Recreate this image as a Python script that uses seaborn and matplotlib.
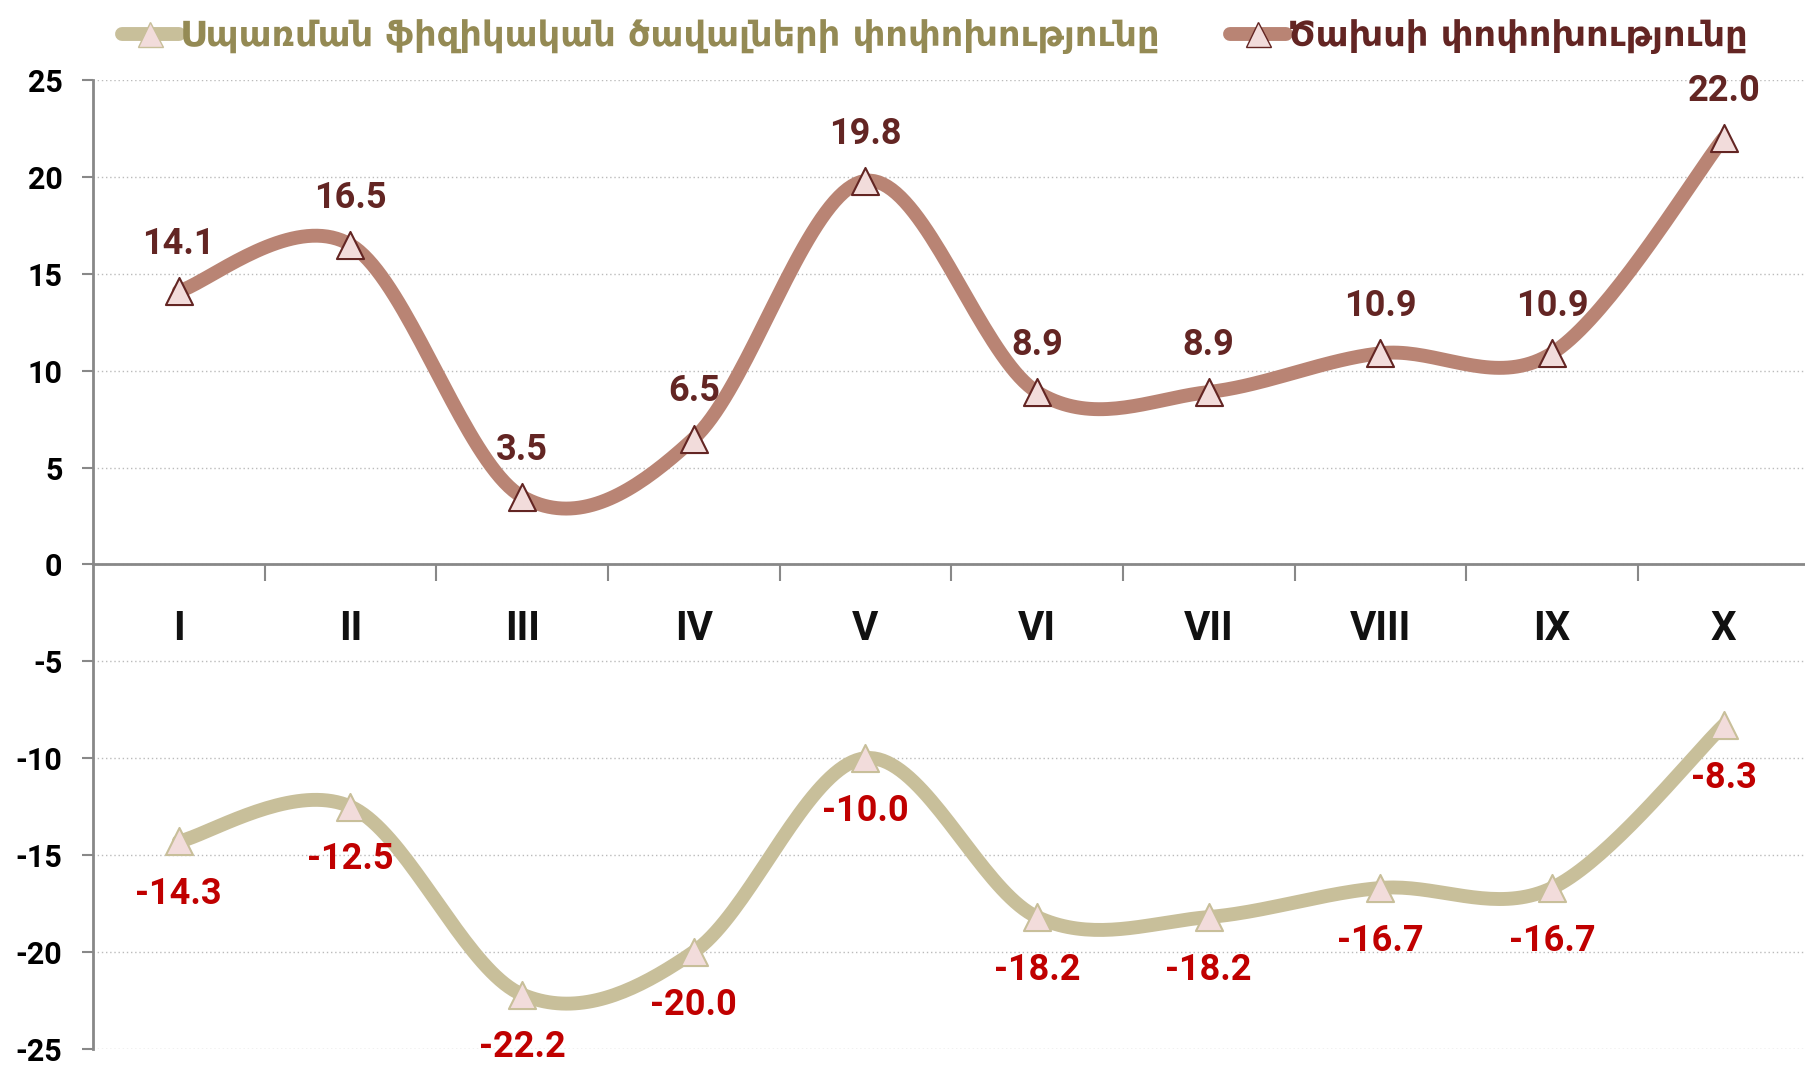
import numpy as np
import pandas as pd
import matplotlib
matplotlib.use("Agg")
import matplotlib.pyplot as plt
import seaborn as sns
from matplotlib.lines import Line2D
from matplotlib.ticker import MultipleLocator, FixedLocator

months = ["I", "II", "III", "IV", "V", "VI", "VII", "VIII", "IX", "X"]
cost_change = [14.1, 16.5, 3.5, 6.5, 19.8, 8.9, 8.9, 10.9, 10.9, 22.0]
volume_change = [-14.3, -12.5, -22.2, -20.0, -10.0, -18.2, -18.2, -16.7, -16.7, -8.3]
legend_volume = "Սպառման ֆիզիկական ծավալների փոփոխությունը"
legend_cost = "Ծախսի փոփոխությունը"

sns.set_theme(style="white")
plt.rcParams['font.family'] = ['Roboto', 'DejaVu Sans']


def smooth(xs, ys, n=40):
    xs = np.asarray(xs, float); ys = np.asarray(ys, float)
    P = np.column_stack([xs, ys])
    P = np.vstack([P[0], P, P[-1]])
    out = []
    for i in range(1, len(P) - 2):
        p0, p1, p2, p3 = P[i - 1], P[i], P[i + 1], P[i + 2]
        c1 = p1 + (p2 - p0) / 6.0
        c2 = p2 - (p3 - p1) / 6.0
        t = np.linspace(0, 1, n)[:, None]
        b = (1 - t) ** 3 * p1 + 3 * (1 - t) ** 2 * t * c1 + 3 * (1 - t) * t ** 2 * c2 + t ** 3 * p2
        out.append(b if i == 1 else b[1:])
    c = np.vstack(out)
    return c[:, 0], c[:, 1]


fig = plt.figure(figsize=(18.05, 10.68), dpi=100)
ax = fig.add_axes([0.0515, 0.018, 0.951, 0.907])

x = np.arange(len(months))
df = pd.DataFrame({"m": x, "cost": cost_change, "vol": volume_change})

brown = "#B98474"
tan = "#C8BF9A"
mfill = "#F2DCDB"
dark = "#632523"
red = "#C00000"

for col, lc, medge in [("vol", tan, tan), ("cost", brown, dark)]:
    sx, sy = smooth(df["m"], df[col])
    sns.lineplot(x=sx, y=sy, ax=ax, color=lc, linewidth=10, sort=False,
                 solid_capstyle="round", zorder=3)
    sns.scatterplot(x=df["m"], y=df[col], ax=ax, marker="^", s=380, color=mfill,
                    edgecolor=medge, linewidth=1.5, zorder=4)

for xi, v in zip(x, cost_change):
    ax.text(xi, v + 1.5, f"{v:.1f}", ha="center", va="bottom", fontsize=26,
            fontweight="bold", color=dark, zorder=5)
for xi, v in zip(x, volume_change):
    ax.text(xi, v - 1.8, f"{v:.1f}", ha="center", va="top", fontsize=26,
            fontweight="bold", color=red, zorder=5)

ax.set_xlim(-0.5, 9.5)
ax.set_ylim(-25, 25)
ax.yaxis.set_major_locator(MultipleLocator(5))
ax.set_yticklabels([f"{int(t)}" for t in ax.get_yticks()])
ax.tick_params(axis="y", labelsize=22, length=8, color="#888888", width=1.5, pad=14,
               left=True, labelcolor="black")
for lbl in ax.get_yticklabels():
    lbl.set_fontweight("bold")
ax.grid(axis="y", color="#BBBBBB", linestyle=(0, (1, 2)), linewidth=1)
ax.set_axisbelow(True)

ax.spines["bottom"].set_position(("data", 0))
for s in ["top", "right"]:
    ax.spines[s].set_visible(False)
for s in ["left", "bottom"]:
    ax.spines[s].set_color("#888888")
    ax.spines[s].set_linewidth(2)
ax.spines["left"].set_zorder(2)

ax.set_xticks(x)
ax.set_xticklabels(months)
ax.xaxis.set_minor_locator(FixedLocator(np.arange(0.5, 9.5, 1)))
ax.tick_params(axis="x", which="major", length=0, pad=33, labelsize=29, labelcolor="#111111")
ax.tick_params(axis="x", which="minor", length=12, color="#888888", width=1.5, bottom=True)
for lbl in ax.get_xticklabels():
    lbl.set_fontweight("bold")
ax.set_xlabel("")
ax.set_ylabel("")

handles = [
    Line2D([0], [0], color=tan, lw=10, marker="^", markersize=18, markerfacecolor=mfill,
           markeredgecolor=tan, solid_capstyle="round"),
    Line2D([0], [0], color=brown, lw=10, marker="^", markersize=18, markerfacecolor=mfill,
           markeredgecolor=dark, solid_capstyle="round"),
]
leg = fig.legend(handles, [legend_volume, legend_cost], loc="upper center",
                 bbox_to_anchor=(0.518, 1.012), ncol=2, frameon=False, handlelength=1.6,
                 handletextpad=0.05, columnspacing=2.0,
                 prop={"family": ['DejaVu Sans'], "size": 25.3, "weight": "bold"})
for t, c in zip(leg.get_texts(), ["#948A54", dark]):
    t.set_color(c)

fig.savefig("out.png", dpi=100)
